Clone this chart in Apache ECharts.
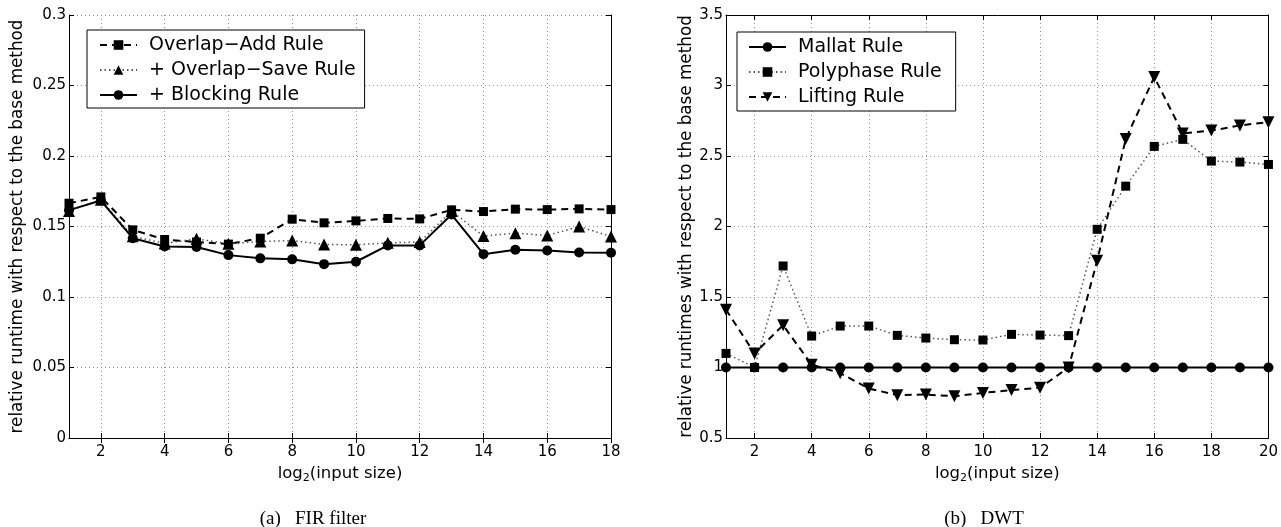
<!DOCTYPE html>
<html>
<head>
<meta charset="utf-8">
<script src="https://cdn.jsdelivr.net/npm/echarts@6/dist/echarts.min.js"></script>
<style>
html,body{margin:0;padding:0;background:#fff;}
#chart{width:1281px;height:527px;}
</style>
</head>
<body>
<div id="chart"></div>
<script>
// ---- data ----
const firSizes = [1,2,3,4,5,6,7,8,9,10,11,12,13,14,15,16,17,18];
const overlapAdd = [0.1665,0.171,0.1476,0.1408,0.139,0.1375,0.1417,0.1552,0.1526,0.154,0.1557,0.1554,0.1618,0.1606,0.1623,0.162,0.1625,0.162];
const overlapSave = [0.161,0.169,0.143,0.138,0.1413,0.1377,0.1394,0.140,0.1373,0.137,0.1384,0.139,0.161,0.1432,0.1453,0.1436,0.150,0.1429];
const blocking = [0.1616,0.1684,0.1417,0.1358,0.1354,0.1297,0.1274,0.1267,0.1233,0.125,0.1366,0.1366,0.1585,0.1304,0.1335,0.133,0.1316,0.1314];

const dwtSizes = [1,2,3,4,5,6,7,8,9,10,11,12,13,14,15,16,17,18,19,20];
const mallat = [1,1,1,1,1,1,1,1,1,1,1,1,1,1,1,1,1,1,1,1];
const polyphase = [1.10,1.00,1.72,1.223,1.294,1.294,1.228,1.209,1.197,1.195,1.235,1.23,1.226,1.98,2.286,2.568,2.618,2.464,2.457,2.44];
const lifting = [1.41,1.10,1.30,1.02,0.96,0.851,0.804,0.808,0.796,0.82,0.84,0.856,1.0,1.757,2.62,3.06,2.66,2.68,2.717,2.74];

const firTicks = [2,4,6,8,10,12,14,16,18];
const dwtTicks = [2,4,6,8,10,12,14,16,18,20];

const firNames = ['Overlap\u2212Add Rule', '+ Overlap\u2212Save Rule', '+ Blocking Rule'];
const dwtNames = ['Mallat Rule', 'Polyphase Rule', 'Lifting Rule'];
const firLabel = 'relative runtime with respect to the base method';
const dwtLabel = 'relative runtimes with respect to the base method';
const captions = ['(a)   FIR filter', '(b)   DWT'];

// ---- helpers ----
const pair = (xs, ys) => xs.map((x, i) => [x, ys[i]]);
const FONT = 'DejaVu Sans';
const gridLine = {show: true, lineStyle: {color: '#8f8f8f', type: [1, 3], width: 1}};

function xAxes(gridIndex, min, max, ticks) {
  return [
    {
      type: 'value', gridIndex, min, max, position: 'bottom',
      axisLine: {show: true, lineStyle: {color: '#000', width: 1}},
      axisTick: {show: true, inside: true, length: 5, customValues: ticks, lineStyle: {color: '#000'}},
      axisLabel: {show: true, customValues: ticks, color: '#000', fontFamily: FONT, fontSize: 15, margin: 7},
      splitLine: gridLine,
      name: 'log{sub|2}(input size)',
      nameLocation: 'middle', nameGap: 20,
      nameTextStyle: {color: '#000', fontFamily: FONT, fontSize: 16.5, verticalAlign: 'top',
        rich: {sub: {fontFamily: FONT, fontSize: 11, verticalAlign: 'bottom', padding: [9, 0, 0, 0], color: '#000'}}}
    },
    {
      type: 'value', gridIndex, min, max, position: 'top',
      axisLine: {show: true, lineStyle: {color: '#000', width: 1}},
      axisTick: {show: true, inside: true, length: 5, customValues: ticks, lineStyle: {color: '#000'}},
      axisLabel: {show: false}, splitLine: {show: false}
    }
  ];
}
function yAxes(gridIndex, min, max, interval, name, nameGap) {
  return [
    {
      type: 'value', gridIndex, min, max, interval, position: 'left',
      axisLine: {show: true, lineStyle: {color: '#000', width: 1}},
      axisTick: {show: true, inside: true, length: 5, lineStyle: {color: '#000'}},
      axisLabel: {color: '#000', fontFamily: FONT, fontSize: 15, margin: 3},
      splitLine: gridLine,
      name, nameLocation: 'middle', nameGap,
      nameTextStyle: {color: '#000', fontFamily: FONT, fontSize: 16.8}
    },
    {
      type: 'value', gridIndex, min, max, interval, position: 'right',
      axisLine: {show: true, lineStyle: {color: '#000', width: 1}},
      axisTick: {show: true, inside: true, length: 5, lineStyle: {color: '#000'}},
      axisLabel: {show: false}, splitLine: {show: false}
    }
  ];
}
function line(name, xi, yi, data, lineType, width, color, symbol, size, rotate) {
  return {
    type: 'line', name, xAxisIndex: xi, yAxisIndex: yi, data,
    symbol, symbolSize: size, symbolRotate: rotate || 0, showSymbol: true,
    lineStyle: {color, width, type: lineType},
    itemStyle: {color: '#000', borderWidth: 0},
    z: 3, animation: false
  };
}

const chart = echarts.init(document.getElementById('chart'), null, {renderer: 'canvas'});
const legendBase = {
  orient: 'vertical', itemWidth: 37, itemHeight: 12, itemGap: 5,
  borderColor: '#000', borderWidth: 1, backgroundColor: '#fff', borderRadius: 0,
  textStyle: {color: '#000', fontFamily: FONT, fontSize: 19, lineHeight: 20, padding: [0, 0, 0, 7]},
  selectedMode: false
};
chart.setOption({
  animation: false,
  backgroundColor: '#fff',
  title: [
    {text: captions[0], left: 308, top: 505, textAlign: 'center',
     textStyle: {fontFamily: 'Liberation Serif', fontWeight: 'normal', fontSize: 19, color: '#000'}},
    {text: captions[1], left: 979, top: 505, textAlign: 'center',
     textStyle: {fontFamily: 'Liberation Serif', fontWeight: 'normal', fontSize: 19, color: '#000'}}
  ],
  legend: [
    Object.assign({}, legendBase, {left: 87, top: 30, data: firNames, padding: [5, 9, 3, 12]}),
    Object.assign({}, legendBase, {left: 737, top: 32, data: dwtNames, padding: [5, 14, 4, 11]})
  ],
  grid: [
    {left: 69, right: 670, top: 15, bottom: 89, show: false},
    {left: 726, right: 11, top: 15, bottom: 89, show: false}
  ],
  xAxis: [].concat(xAxes(0, 1, 18, firTicks), xAxes(1, 1, 20, dwtTicks)),
  yAxis: [].concat(yAxes(0, 0, 0.3, 0.05, firLabel, 43), yAxes(1, 0.5, 3.5, 0.5, dwtLabel, 30)),
  series: [
    line(firNames[0], 0, 0, pair(firSizes, overlapAdd), [7, 5], 2, '#000', 'rect', 9),
    line(firNames[1], 0, 0, pair(firSizes, overlapSave), [1.5, 3], 1.5, '#555', 'triangle', 12),
    line(firNames[2], 0, 0, pair(firSizes, blocking), 'solid', 2, '#000', 'circle', 10),
    line(dwtNames[0], 2, 2, pair(dwtSizes, mallat), 'solid', 2, '#000', 'circle', 10),
    line(dwtNames[1], 2, 2, pair(dwtSizes, polyphase), [1.5, 3], 1.5, '#555', 'rect', 9),
    line(dwtNames[2], 2, 2, pair(dwtSizes, lifting), [7, 5], 2, '#000', 'triangle', 12, 180)
  ]
});
</script>
</body>
</html>
